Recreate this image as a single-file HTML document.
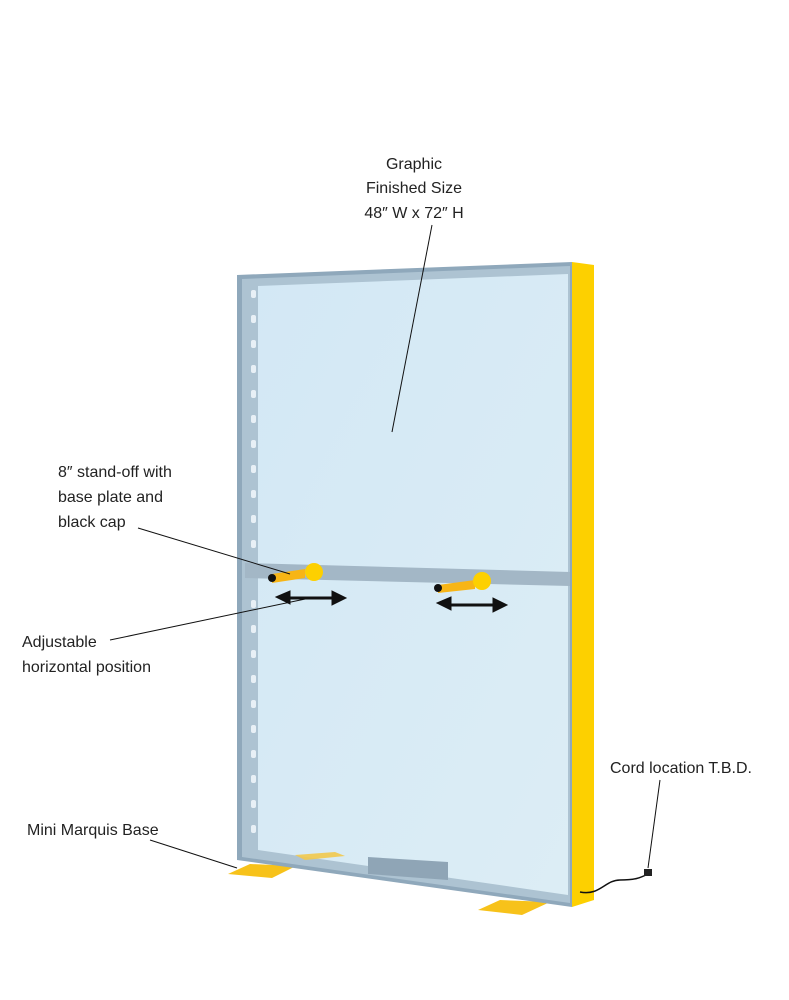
<!DOCTYPE html>
<html><head><style>
html,body{margin:0;padding:0;background:#fff;}
svg{display:block;}
text{font-family:"Liberation Sans",sans-serif;font-size:16px;fill:#222;}
</style></head><body>
<svg width="789" height="1000" viewBox="0 0 789 1000">
<defs>
<linearGradient id="g" x1="0" y1="0" x2="1" y2="1">
<stop offset="0" stop-color="#d3e8f5"/><stop offset="1" stop-color="#dcedf5"/>
</linearGradient>
</defs>
<!-- feet -->
<polygon points="228,874 250,864 296,866 272,878" fill="#f7c21a"/>
<polygon points="478,910 500,900 550,902 522,915" fill="#f7c21a"/>
<!-- yellow side -->
<polygon points="572,262 594,265 594,900 572,907" fill="#fdd000"/>
<!-- frame -->
<polygon points="237,275 572,262 572,907 237,860" fill="#8fa8bb"/>
<polygon points="242,279 570,266 570,903 242,857" fill="#adc3d2"/>
<!-- glass -->
<polygon points="258,286 568,274 568,895 258,850" fill="url(#g)"/>
<!-- left rail holes -->
<g fill="#e8f0f6">
<rect x="251" y="290" width="5" height="8" rx="2"/><rect x="251" y="315" width="5" height="8" rx="2"/>
<rect x="251" y="340" width="5" height="8" rx="2"/><rect x="251" y="365" width="5" height="8" rx="2"/>
<rect x="251" y="390" width="5" height="8" rx="2"/><rect x="251" y="415" width="5" height="8" rx="2"/>
<rect x="251" y="440" width="5" height="8" rx="2"/><rect x="251" y="465" width="5" height="8" rx="2"/>
<rect x="251" y="490" width="5" height="8" rx="2"/><rect x="251" y="515" width="5" height="8" rx="2"/>
<rect x="251" y="540" width="5" height="8" rx="2"/><rect x="251" y="600" width="5" height="8" rx="2"/>
<rect x="251" y="625" width="5" height="8" rx="2"/><rect x="251" y="650" width="5" height="8" rx="2"/>
<rect x="251" y="675" width="5" height="8" rx="2"/><rect x="251" y="700" width="5" height="8" rx="2"/>
<rect x="251" y="725" width="5" height="8" rx="2"/><rect x="251" y="750" width="5" height="8" rx="2"/>
<rect x="251" y="775" width="5" height="8" rx="2"/><rect x="251" y="800" width="5" height="8" rx="2"/>
<rect x="251" y="825" width="5" height="8" rx="2"/>
</g>
<!-- bottom box -->
<polygon points="368,857 448,862 448,880 368,874" fill="#8fa5b6"/>
<polygon points="295,855 335,852 345,856 305,860" fill="#f2c94c" opacity="0.9"/>
<!-- horizontal bar -->
<polygon points="245,563 570,572 570,586 245,578" fill="#a3b7c6"/>
<!-- standoffs -->
<polygon points="272,574 305,569 305,578 272,583" fill="#f7b516"/>
<circle cx="272" cy="578" r="4" fill="#111"/>
<circle cx="314" cy="572" r="9" fill="#fdd000"/>
<polygon points="438,585 475,580 475,589 438,593" fill="#f7b516"/>
<circle cx="438" cy="588" r="4" fill="#111"/>
<circle cx="482" cy="581" r="9" fill="#fdd000"/>
<!-- arrows -->
<g fill="#111" stroke="#111">
<line x1="285" y1="598" x2="335" y2="598" stroke-width="3"/>
<polygon points="276,597 290,591 290,604"/><polygon points="346,598 332,591 332,605"/>
<line x1="447" y1="605" x2="497" y2="605" stroke-width="3"/>
<polygon points="437,603 451,597 451,610"/><polygon points="507,605 493,598 493,612"/>
</g>
<!-- cord -->
<path d="M580,892 C600,896 605,880 620,880 S640,878 648,874" fill="none" stroke="#111" stroke-width="1.5"/>
<rect x="644" y="869" width="8" height="7" fill="#222"/>
<!-- leaders -->
<g stroke="#111" stroke-width="1" fill="none">
<line x1="432" y1="225" x2="392" y2="432"/>
<line x1="138" y1="528" x2="290" y2="574"/>
<line x1="110" y1="640" x2="310" y2="598"/>
<line x1="150" y1="840" x2="237" y2="868"/>
<line x1="660" y1="780" x2="648" y2="868"/>
</g>
<text x="414" y="169" text-anchor="middle">Graphic</text>
<text x="414" y="193" text-anchor="middle">Finished Size</text>
<text x="414" y="218" text-anchor="middle">48″ W x 72″ H</text>
<text x="58" y="477">8″ stand-off with</text>
<text x="58" y="502">base plate and</text>
<text x="58" y="527">black cap</text>
<text x="22" y="647">Adjustable</text>
<text x="22" y="672">horizontal position</text>
<text x="27" y="835">Mini Marquis Base</text>
<text x="610" y="773">Cord location T.B.D.</text>
</svg>
</body></html>
